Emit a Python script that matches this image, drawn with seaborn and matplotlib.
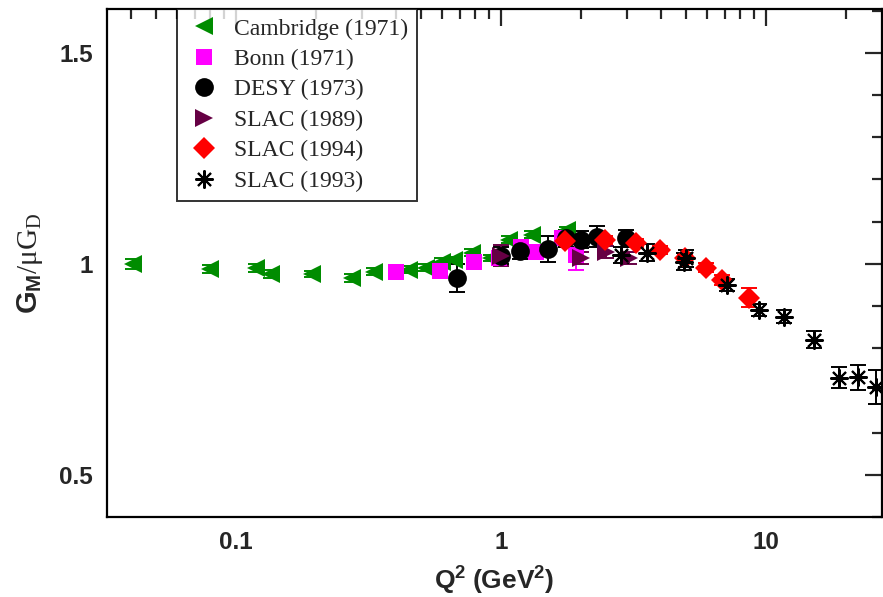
import matplotlib
matplotlib.use("Agg")
import matplotlib.pyplot as plt
import seaborn as sns
import pandas as pd
import numpy as np

# Proton magnetic form factor ratio G_M / (mu G_D) versus Q^2
cam_q2 = [0.041, 0.080, 0.119, 0.136, 0.194, 0.274, 0.332, 0.45, 0.52, 0.60, 0.665, 0.78, 0.92, 1.07, 1.31, 1.77]
cam_g = [1.000, 0.988, 0.990, 0.976, 0.976, 0.967, 0.981, 0.986, 0.991, 1.005, 1.009, 1.026, 1.014, 1.057, 1.069, 1.080]
cam_err = [0.012, 0.010, 0.010, 0.010, 0.008, 0.010, 0.008, 0.008, 0.008, 0.008, 0.008, 0.008, 0.008, 0.008, 0.008, 0.008]

bonn_q2 = [0.40, 0.59, 0.79, 0.98, 1.19, 1.355, 1.70, 1.92]
bonn_g = [0.981, 0.983, 1.005, 1.014, 1.040, 1.028, 1.061, 1.021]
bonn_err = [0.008, 0.008, 0.010, 0.012, 0.012, 0.012, 0.015, 0.035]

desy_q2 = [0.68, 1.0, 1.18, 1.50, 1.76, 2.0, 2.30, 2.96]
desy_g = [0.967, 1.019, 1.031, 1.035, 1.061, 1.057, 1.064, 1.061]
desy_err = [0.033, 0.020, 0.020, 0.030, 0.020, 0.020, 0.025, 0.020]

s89_q2 = [1.0, 2.0, 2.49, 3.04]
s89_g = [1.019, 1.014, 1.028, 1.014]
s89_err = [0.025, 0.015, 0.015, 0.015]

s94_q2 = [1.74, 2.47, 3.23, 3.98, 4.94, 5.94, 6.82, 8.63]
s94_g = [1.054, 1.057, 1.050, 1.033, 1.014, 0.991, 0.962, 0.920]
s94_err = [0.010, 0.010, 0.010, 0.010, 0.010, 0.010, 0.012, 0.022]

s93_q2 = [2.84, 3.56, 4.9, 5.0, 7.13, 9.41, 11.7, 15.2, 18.9, 22.2, 26.0]
s93_g = [1.021, 1.026, 1.005, 1.013, 0.950, 0.891, 0.875, 0.820, 0.730, 0.731, 0.709]
s93_err = [0.020, 0.020, 0.020, 0.020, 0.015, 0.015, 0.015, 0.020, 0.025, 0.030, 0.040]

series = [
    ("Cambridge (1971)", cam_q2, cam_g, cam_err, "<", "#008c00", 13),
    ("Bonn (1971)", bonn_q2, bonn_g, bonn_err, "s", "#ff00ff", 11.5),
    ("DESY (1973)", desy_q2, desy_g, desy_err, "o", "#000000", 13.5),
    ("SLAC (1989)", s89_q2, s89_g, s89_err, ">", "#660044", 13),
    ("SLAC (1994)", s94_q2, s94_g, s94_err, "D", "#ff0000", 11),
    ("SLAC (1993)", s93_q2, s93_g, s93_err, (8, 2, 0), "#000000", 13),
]

frames = []
for name, q, g, e, *_ in series:
    frames.append(pd.DataFrame({"Q2": q, "G": g, "err": e, "set": name}))
df = pd.concat(frames, ignore_index=True)

sns.set_theme(style="white")
plt.rcParams["font.family"] = ["Liberation Sans", "DejaVu Sans"]
plt.rcParams["mathtext.fontset"] = "custom"
plt.rcParams["mathtext.rm"] = "Liberation Serif"
plt.rcParams["mathtext.it"] = "Liberation Serif:italic"
plt.rcParams["mathtext.bf"] = "Liberation Sans:bold"

fig = plt.figure(figsize=(8.83, 5.97), dpi=100)
ax = fig.add_axes([107 / 883, 1 - 517 / 597, 775 / 883, 508 / 597])

for name, q, g, e, mk, col, ms in series:
    sub = df[df["set"] == name]
    ax.errorbar(sub["Q2"], sub["G"], yerr=sub["err"], fmt="none",
                ecolor=col, elinewidth=1.4, capsize=6, capthick=1.4, zorder=2)
    kw = dict(markeredgewidth=1.5) if mk == (8, 2, 0) else dict(markeredgewidth=0)
    sns.lineplot(data=sub, x="Q2", y="G", ax=ax, linestyle="", marker=mk,
                 markersize=ms, color=col, markeredgecolor=col, label=name,
                 errorbar=None, estimator=None, sort=False, zorder=3, **kw)

ax.set_xscale("log")
ax.set_xlim(0.0326, 27.4)
ax.set_ylim(0.4, 1.604)
ax.set_yticks([0.5, 1.0, 1.5])
ax.set_yticklabels(["0.5", "1", "1.5"])
ax.set_yticks(np.arange(0.4, 1.61, 0.1), minor=True)
ax.set_xticks([0.1, 1, 10])
ax.set_xticklabels(["0.1", "1", "10"])

for s in ax.spines.values():
    s.set_linewidth(1.6)
    s.set_color("black")
ax.tick_params(which="major", direction="in", length=12, width=1.6,
               top=True, right=True, labelsize=17.5, pad=10)
ax.tick_params(which="minor", direction="in", length=7, width=1.6,
               top=True, right=True)
for lab in ax.get_xticklabels() + ax.get_yticklabels():
    lab.set_fontweight("bold")

ax.set_xlabel(r"$\mathbf{Q^2\ (GeV^2)}$", fontsize=19, labelpad=8)
ax.set_ylabel(r"$\mathbf{G}_\mathbf{M}/\mathrm{\mu G}_\mathrm{D}$", fontsize=21, labelpad=10)

leg = ax.legend(loc="upper left", bbox_to_anchor=(0.0903, 1.0), borderaxespad=0,
                frameon=True, fancybox=False, edgecolor="black",
                prop={"family": "Liberation Serif", "size": 17},
                handletextpad=0.55, labelspacing=0.38, borderpad=0.38,
                handlelength=1.5)
leg.get_frame().set_linewidth(1.4)

fig.savefig("out.png", dpi=100)
